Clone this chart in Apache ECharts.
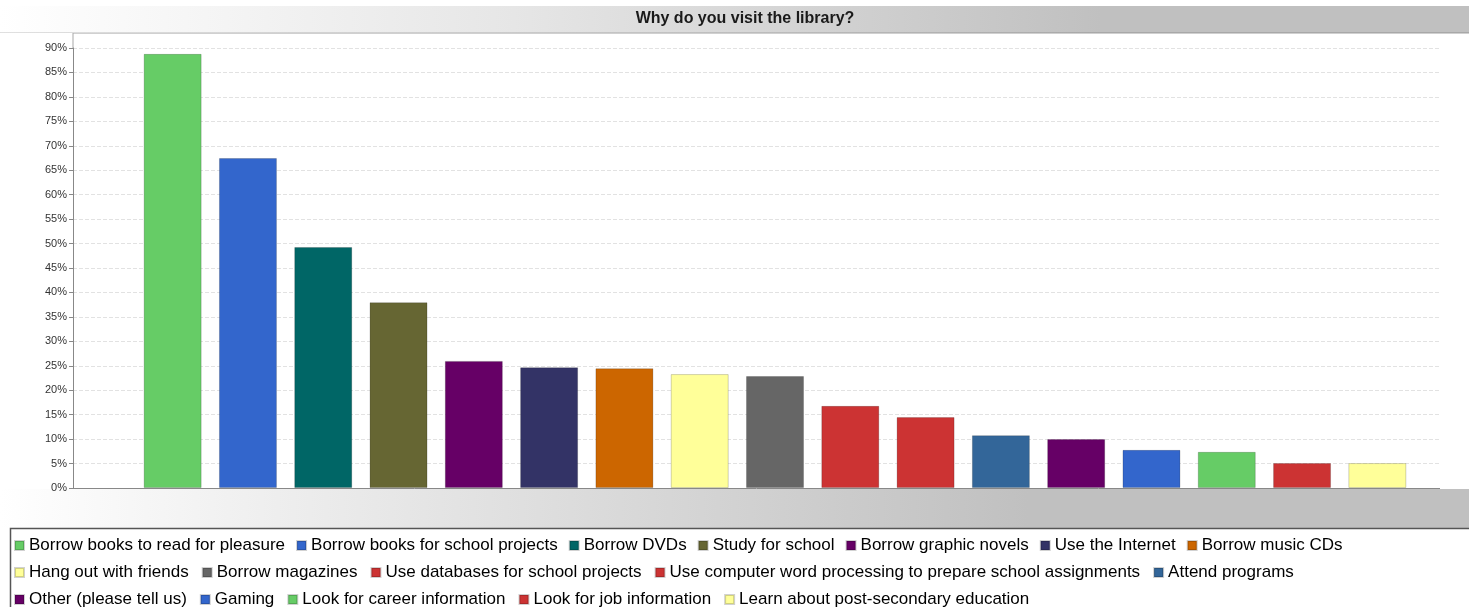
<!DOCTYPE html>
<html>
<head>
<meta charset="utf-8">
<title>Why do you visit the library?</title>
<script src="https://cdn.jsdelivr.net/npm/echarts@6/dist/echarts.min.js"></script>
<style>
  html, body { margin: 0; padding: 0; background: #ffffff; }
  #chart { width: 1469px; height: 607px; }
</style>
</head>
<body>
<div id="chart"></div>
<script>
// Survey answers: share of respondents choosing each reason (percent)
const categories = [
  'Borrow books to read for pleasure',
  'Borrow books for school projects',
  'Borrow DVDs',
  'Study for school',
  'Borrow graphic novels',
  'Use the Internet',
  'Borrow music CDs',
  'Hang out with friends',
  'Borrow magazines',
  'Use databases for school projects',
  'Use computer word processing to prepare school assignments',
  'Attend programs',
  'Other (please tell us)',
  'Gaming',
  'Look for career information',
  'Look for job information',
  'Learn about post-secondary education'
];
const values = [88.8, 67.5, 49.3, 38.0, 26.0, 24.7, 24.5, 23.3, 22.9, 16.8, 14.5, 10.8, 10.0, 7.8, 7.4, 5.1, 5.1];
const colors = [
  '#66cc66', '#3366cc', '#006666', '#666633', '#660066', '#333366', '#cc6600',
  '#ffff99', '#666666', '#cc3333', '#cc3333', '#336699', '#660066', '#3366cc',
  '#66cc66', '#cc3333', '#ffff99'
];
const yTicks = [0, 5, 10, 15, 20, 25, 30, 35, 40, 45, 50, 55, 60, 65, 70, 75, 80, 85, 90];
// Legend rows as laid out under the chart
const legendRows = [
  categories.slice(0, 7),
  categories.slice(7, 12),
  categories.slice(12)
];
const legendGaps = [11, 13, 13];

const chart = echarts.init(document.getElementById('chart'), null, { renderer: 'canvas' });

// One series per reason so each gets its own legend entry; stacked so bars keep full width
const series = categories.map((name, i) => ({
  name: name,
  type: 'bar',
  xAxisIndex: 1,
  yAxisIndex: 1,
  stack: 'all',
  barWidth: 58,
  itemStyle: {
    color: colors[i],
    borderColor: 'rgba(0,0,0,0.18)',
    borderWidth: 1
  },
  emphasis: { disabled: true },
  data: categories.map((c, j) => (j === i ? values[i] : null))
}));

const font = '"Liberation Sans", Arial, sans-serif';

const option = {
  animation: false,
  backgroundColor: '#ffffff',
  graphic: [
    // header band
    {
      type: 'rect', z: -5,
      shape: { x: 0, y: 6, width: 1469, height: 27 },
      style: {
        fill: new echarts.graphic.LinearGradient(0, 0, 1, 0, [
          { offset: 0, color: '#ffffff' },
          { offset: 0.35, color: '#e6e6e6' },
          { offset: 0.75, color: '#c0c0c0' },
          { offset: 1, color: '#c0c0c0' }
        ])
      }
    },
    {
      type: 'rect', z: -4,
      shape: { x: 0, y: 32, width: 1469, height: 1 },
      style: { fill: 'rgba(0,0,0,0.12)' }
    },
    {
      type: 'text', z: 5,
      style: {
        x: 745, y: 19,
        text: 'Why do you visit the library?',
        font: 'bold 16px ' + font,
        fill: '#1a1a1a',
        align: 'center', verticalAlign: 'middle'
      }
    },
    // band below the plot
    {
      type: 'rect', z: -5,
      shape: { x: 0, y: 489, width: 1469, height: 39 },
      style: {
        fill: new echarts.graphic.LinearGradient(0, 0, 1, 0, [
          { offset: 0, color: '#ffffff' },
          { offset: 0.3, color: '#e4e4e4' },
          { offset: 0.7, color: '#c0c0c0' },
          { offset: 1, color: '#c0c0c0' }
        ])
      }
    },
    // legend frame
    {
      type: 'rect', z: -3,
      shape: { x: 10.5, y: 528.5, width: 1470, height: 90 },
      style: { fill: '#ffffff', stroke: '#555555', lineWidth: 1.5 }
    },
    // plot area frame: top edge and the axis line above the 90% tick
    {
      type: 'rect', z: -2,
      shape: { x: 73, y: 33, width: 1396, height: 1 },
      style: { fill: '#d0d0d0' }
    },
    {
      type: 'rect', z: -2,
      shape: { x: 72.5, y: 33, width: 1, height: 15 },
      style: { fill: '#a8a8a8' }
    }
  ],
  grid: [
    { left: 73, right: 29, top: 48, bottom: 119, containLabel: false },
    { left: 135, right: 54, top: 48, bottom: 119, containLabel: false }
  ],
  xAxis: [
    {
      type: 'category', gridIndex: 0, data: ['a'],
      axisLine: { show: false }, axisTick: { show: false }, axisLabel: { show: false }
    },
    {
      type: 'category', gridIndex: 1, data: categories,
      axisLine: { show: false }, axisTick: { show: false }, axisLabel: { show: false },
      splitLine: { show: false }
    }
  ],
  yAxis: [
    {
      type: 'value', gridIndex: 0, min: 0, max: 90, interval: 5,
      axisLine: { show: true, lineStyle: { color: '#888888', width: 1 } },
      axisTick: { show: true, length: 4, lineStyle: { color: '#888888' } },
      axisLabel: {
        color: '#333333', fontSize: 11, fontFamily: font, margin: 6,
        formatter: v => (yTicks.includes(v) ? v + '%' : '')
      },
      splitLine: { show: true, lineStyle: { color: '#e2e2e2', type: 'dashed', width: 1 } }
    },
    {
      type: 'value', gridIndex: 1, min: 0, max: 90, interval: 5,
      axisLine: { show: false }, axisTick: { show: false }, axisLabel: { show: false },
      splitLine: { show: false }
    }
  ],
  legend: legendRows.map((row, k) => ({
    data: row,
    left: 14,
    top: 537 + k * 27,
    padding: 0,
    orient: 'horizontal',
    itemWidth: 9,
    itemHeight: 9,
    itemGap: legendGaps[k],
    icon: 'rect',
    selectedMode: false,
    textStyle: { color: '#000000', fontSize: 17, fontFamily: font }
  })),
  series: series.concat([{
    // baseline of the category axis
    type: 'line', xAxisIndex: 0, yAxisIndex: 0, data: [],
    markLine: {
      silent: true, symbol: 'none', label: { show: false },
      lineStyle: { color: '#888888', type: 'solid', width: 1 },
      data: [{ yAxis: 0 }]
    }
  }])
};

chart.setOption(option);
</script>
</body>
</html>
